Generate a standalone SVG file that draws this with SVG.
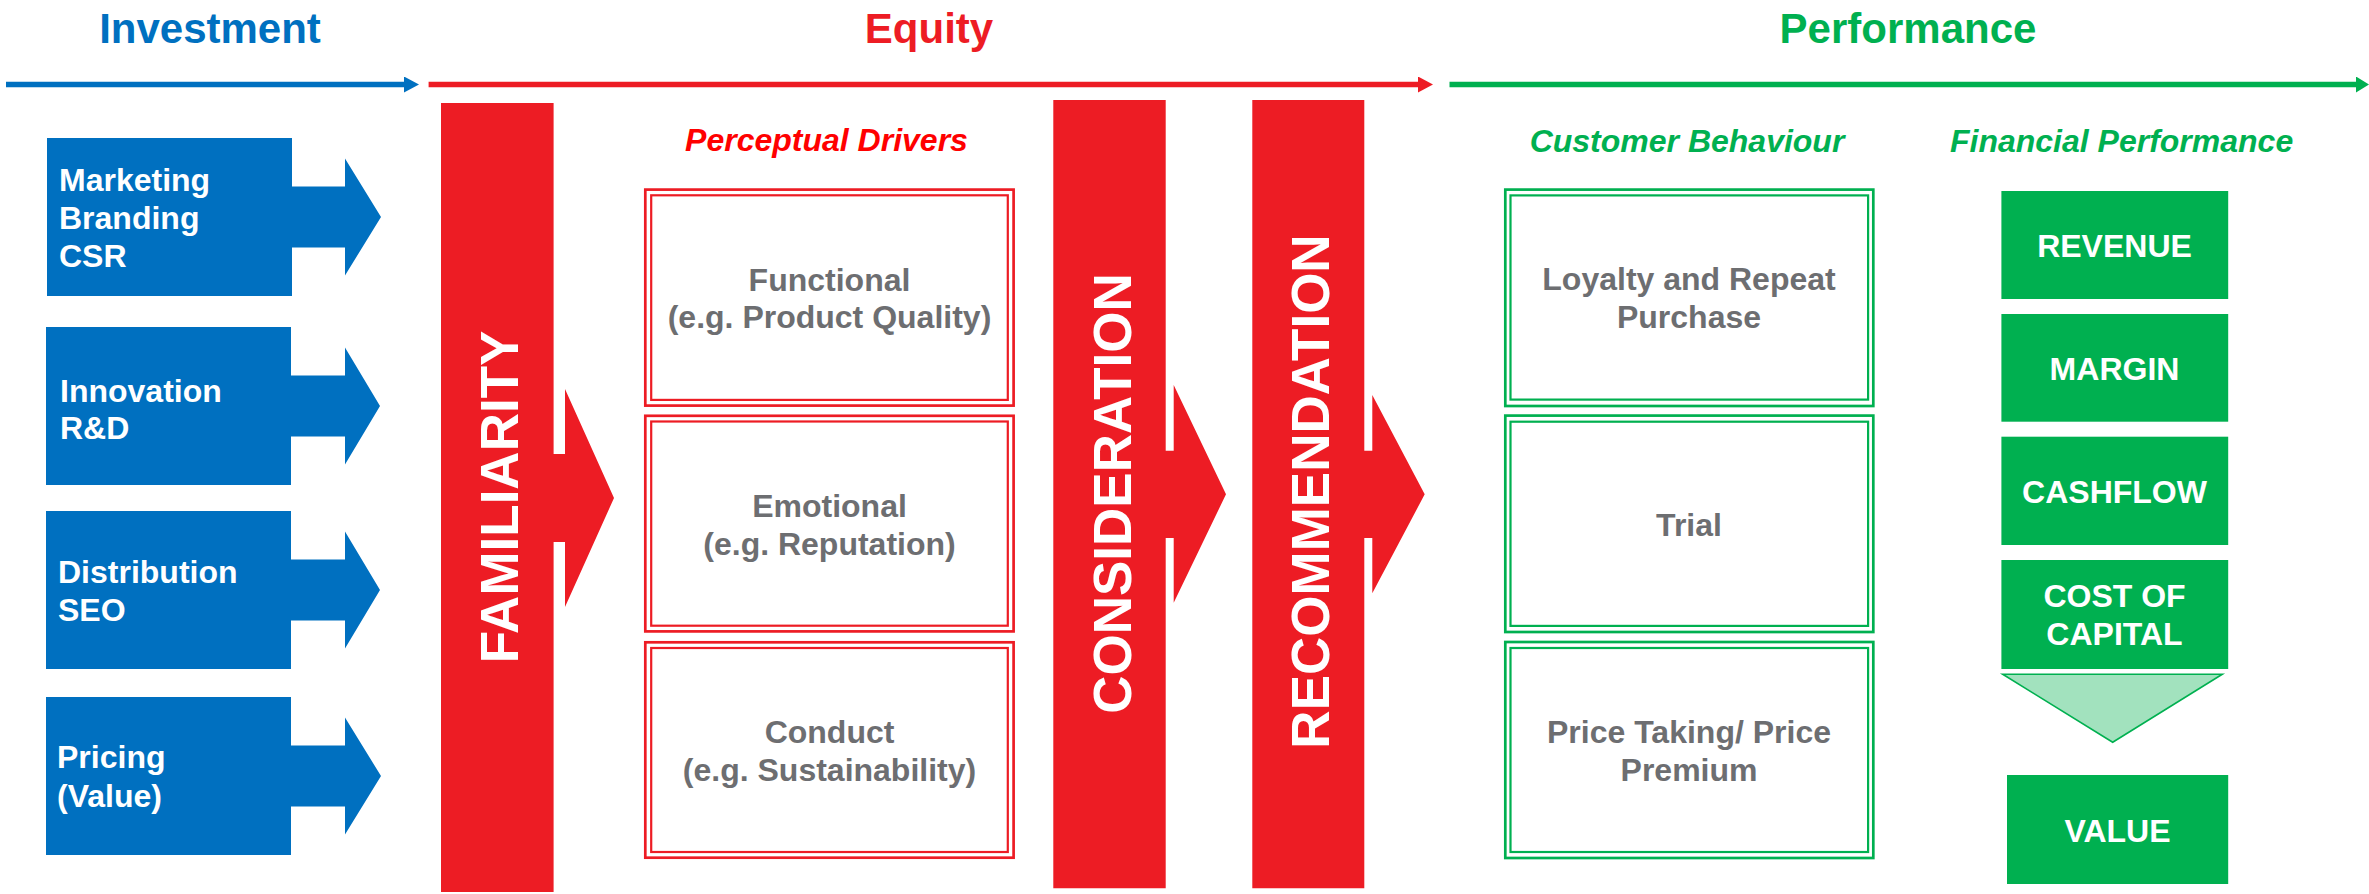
<svg xmlns="http://www.w3.org/2000/svg" width="2369" height="894" viewBox="0 0 2369 894">
  <defs>
    <style>
      text { font-family: "Liberation Sans", Arial, "DejaVu Sans", sans-serif; font-weight: bold; }
      .title { font-size: 42px; text-anchor: middle; }
      .sub { font-size: 32px; font-style: italic; text-anchor: middle; }
      .inv { font-size: 32px; fill: #ffffff; }
      .bar { font-size: 53px; fill: #ffffff; text-anchor: middle; }
      .grey { font-size: 32px; fill: #6d6e71; text-anchor: middle; }
      .fin { font-size: 32px; fill: #ffffff; text-anchor: middle; }
      .blue { fill: #0070c0; }
      .red { fill: #ed1c24; }
      .green { fill: #00b050; }
      .dbl-red { fill: #ffffff; stroke: #ed1c24; }
      .dbl-green { fill: none; stroke: #00b050; }
      .outer { stroke-width: 2.7; }
      .inner { stroke-width: 2.2; }
      .timeline { fill: none; stroke-width: 5.6; }
    </style>
    <marker id="head-blue" markerUnits="userSpaceOnUse" markerWidth="16" markerHeight="16" refX="0" refY="8" orient="auto">
      <path d="M0,0 L15,8 L0,16 Z" fill="#0070c0"/>
    </marker>
    <marker id="head-red" markerUnits="userSpaceOnUse" markerWidth="16" markerHeight="16" refX="0" refY="8" orient="auto">
      <path d="M0,0 L15,8 L0,16 Z" fill="#ed1c24"/>
    </marker>
    <marker id="head-green" markerUnits="userSpaceOnUse" markerWidth="16" markerHeight="16" refX="0" refY="8" orient="auto">
      <path d="M0,0 L13,8 L0,16 Z" fill="#00b050"/>
    </marker>
  </defs>

  <rect x="0" y="0" width="2369" height="894" fill="#ffffff"/>

  <!-- Section headings -->
  <g id="headings">
    <text class="title" x="210" y="43.3" fill="#0070c0">Investment</text>
    <text class="title" x="929" y="43.3" fill="#ed1c24">Equity</text>
    <text class="title" x="1908" y="42.7" fill="#00b050">Performance</text>
    <text class="sub" x="826.5" y="150.7" fill="#ff0000">Perceptual Drivers</text>
    <text class="sub" x="1687" y="151.7" fill="#00b050">Customer Behaviour</text>
    <text class="sub" x="2121.6" y="151.7" fill="#00b050">Financial Performance</text>
  </g>

  <!-- Timelines and the value funnel -->
  <g id="connectors">
    <path class="timeline" d="M6,84.5 H404" stroke="#0070c0" marker-end="url(#head-blue)"/>
    <path class="timeline" d="M428.6,84.5 H1418" stroke="#ed1c24" marker-end="url(#head-red)"/>
    <path class="timeline" d="M1449.5,84.5 H2356" stroke="#00b050" marker-end="url(#head-green)"/>
    <polygon points="2002.7,674.3 2222.3,674.3 2112.7,742.3" fill="#a2e2be" stroke="#00b050" stroke-width="1.6" stroke-linejoin="miter"/>
  </g>

  <!-- Investment inputs -->
  <g id="inv-marketing">
    <path class="blue" d="M47,138 H292 V186.5 H345 V158.5 L381,217 L345,275.5 V247.5 H292 V296 H47 Z"/>
    <text class="inv" x="59" y="191">Marketing</text>
    <text class="inv" x="59" y="229">Branding</text>
    <text class="inv" x="59" y="267">CSR</text>
  </g>
  <g id="inv-innovation">
    <path class="blue" d="M46,327 H291 V375.5 H345 V347.5 L380,406 L345,464.5 V436.5 H291 V485 H46 Z"/>
    <text class="inv" x="60" y="401.5">Innovation</text>
    <text class="inv" x="60" y="439">R&amp;D</text>
  </g>
  <g id="inv-distribution">
    <path class="blue" d="M46,511 H291 V559.5 H345 V531.5 L380,590 L345,648.5 V620.5 H291 V669 H46 Z"/>
    <text class="inv" x="58" y="583">Distribution</text>
    <text class="inv" x="58" y="621">SEO</text>
  </g>
  <g id="inv-pricing">
    <path class="blue" d="M46,697 H291 V745.5 H345 V717.5 L381,776 L345,834.5 V806.5 H291 V855 H46 Z"/>
    <text class="inv" x="57" y="768">Pricing</text>
    <text class="inv" x="57" y="807">(Value)</text>
  </g>

  <!-- Equity stages -->
  <g id="familiarity">
    <path class="red" d="M441,103 H553.6 V454 H565 V389 L614,498 L565,607 V542 H553.6 V892 H441 Z"/>
    <text class="bar" transform="translate(518,497) rotate(-90)">FAMILIARITY</text>
  </g>
  <g id="consideration">
    <path class="red" d="M1053.3,100 H1165.7 V450.7 H1173.7 V385 L1226,494.3 L1173.7,602.7 V538 H1165.7 V888.3 H1053.3 Z"/>
    <text class="bar" transform="translate(1130.7,493.5) rotate(-90)">CONSIDERATION</text>
  </g>
  <g id="recommendation">
    <path class="red" d="M1252.3,100 H1364.3 V450.7 H1372.3 V395 L1424.7,494.3 L1372.3,593.3 V538 H1364.3 V888.3 H1252.3 Z"/>
    <text class="bar" transform="translate(1329.3,491.5) rotate(-90)">RECOMMENDATION</text>
  </g>

  <!-- Perceptual drivers -->
  <g id="driver-functional">
    <rect class="dbl-red outer" x="645.3" y="189.6" width="368.3" height="216"/>
    <rect class="dbl-red inner" x="651.2" y="195.3" width="356.6" height="204.6"/>
    <text class="grey" x="829.5" y="290.7">Functional</text>
    <text class="grey" x="829.5" y="328">(e.g. Product Quality)</text>
  </g>
  <g id="driver-emotional">
    <rect class="dbl-red outer" x="645.3" y="415.8" width="368.3" height="215.6"/>
    <rect class="dbl-red inner" x="651.2" y="421.5" width="356.6" height="204.2"/>
    <text class="grey" x="829.5" y="517.3">Emotional</text>
    <text class="grey" x="829.5" y="555">(e.g. Reputation)</text>
  </g>
  <g id="driver-conduct">
    <rect class="dbl-red outer" x="645.3" y="642.3" width="368.3" height="215.4"/>
    <rect class="dbl-red inner" x="651.2" y="648" width="356.6" height="204"/>
    <text class="grey" x="829.5" y="742.7">Conduct</text>
    <text class="grey" x="829.5" y="780.7">(e.g. Sustainability)</text>
  </g>

  <!-- Customer behaviour -->
  <g id="behaviour-loyalty">
    <rect class="dbl-green outer" x="1505.3" y="189.6" width="368" height="216.4"/>
    <rect class="dbl-green inner" x="1510.5" y="195.4" width="357.6" height="204.2"/>
    <text class="grey" x="1689" y="290">Loyalty and Repeat</text>
    <text class="grey" x="1689" y="328.3">Purchase</text>
  </g>
  <g id="behaviour-trial">
    <rect class="dbl-green outer" x="1505.3" y="415.6" width="368" height="216.4"/>
    <rect class="dbl-green inner" x="1510.5" y="421.7" width="357.6" height="204.2"/>
    <text class="grey" x="1689" y="536">Trial</text>
  </g>
  <g id="behaviour-price">
    <rect class="dbl-green outer" x="1505.3" y="642" width="368" height="216"/>
    <rect class="dbl-green inner" x="1510.5" y="648" width="357.6" height="204"/>
    <text class="grey" x="1689" y="743.3">Price Taking/ Price</text>
    <text class="grey" x="1689" y="780.7">Premium</text>
  </g>

  <!-- Financial performance -->
  <g id="fin-revenue">
    <rect class="green" x="2001.4" y="191" width="226.8" height="108"/>
    <text class="fin" x="2114.5" y="256.7">REVENUE</text>
  </g>
  <g id="fin-margin">
    <rect class="green" x="2001.4" y="314" width="226.8" height="107.7"/>
    <text class="fin" x="2114.5" y="380">MARGIN</text>
  </g>
  <g id="fin-cashflow">
    <rect class="green" x="2001.4" y="436.7" width="226.8" height="108.3"/>
    <text class="fin" x="2114.5" y="502.7">CASHFLOW</text>
  </g>
  <g id="fin-cost-of-capital">
    <rect class="green" x="2001.4" y="560" width="226.8" height="109"/>
    <text class="fin" x="2114.5" y="606.7">COST OF</text>
    <text class="fin" x="2114.5" y="645">CAPITAL</text>
  </g>
  <g id="fin-value">
    <rect class="green" x="2007" y="775" width="221.2" height="109"/>
    <text class="fin" x="2117.5" y="841.7">VALUE</text>
  </g>
</svg>
